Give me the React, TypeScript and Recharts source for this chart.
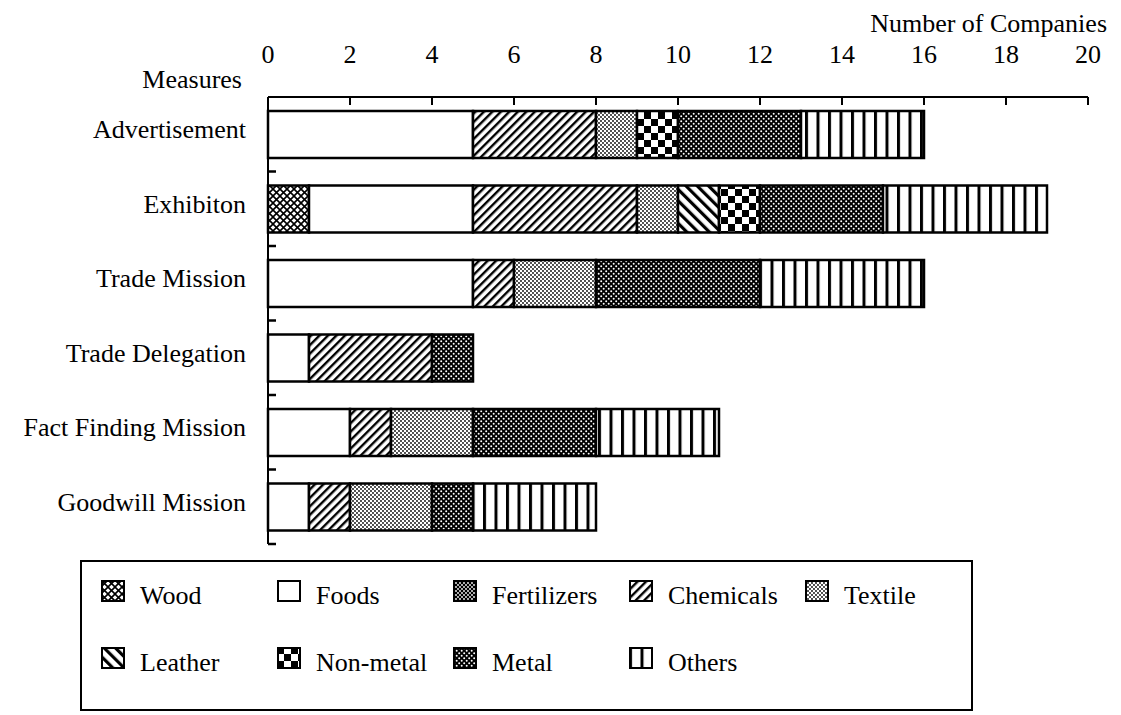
import type { FC } from 'react';
import { BarChart, Bar, XAxis, YAxis, Legend } from 'recharts';

const measures = [
  'Advertisement',
  'Exhibiton',
  'Trade Mission',
  'Trade Delegation',
  'Fact Finding Mission',
  'Goodwill Mission',
];

const wood = [0, 1, 0, 0, 0, 0];
const foods = [5, 4, 5, 1, 2, 1];
const fertilizers = [0, 0, 0, 0, 0, 0];
const chemicals = [3, 4, 1, 3, 1, 1];
const textile = [1, 1, 2, 0, 2, 2];
const leather = [0, 1, 0, 0, 0, 0];
const nonMetal = [1, 1, 0, 0, 0, 0];
const metal = [3, 3, 4, 1, 3, 1];
const others = [3, 4, 4, 0, 3, 3];

const xTicks = [0, 2, 4, 6, 8, 10, 12, 14, 16, 18, 20];

// legend order, as printed in the box
const series = [
  { key: 'wood', name: 'Wood', values: wood },
  { key: 'foods', name: 'Foods', values: foods },
  { key: 'fertilizers', name: 'Fertilizers', values: fertilizers },
  { key: 'chemicals', name: 'Chemicals', values: chemicals },
  { key: 'textile', name: 'Textile', values: textile },
  { key: 'leather', name: 'Leather', values: leather },
  { key: 'nonMetal', name: 'Non-metal', values: nonMetal },
  { key: 'metal', name: 'Metal', values: metal },
  { key: 'others', name: 'Others', values: others },
];

const data = measures.map((measure, i) => {
  const row: Record<string, string | number> = { measure };
  series.forEach((s) => {
    row[s.key] = s.values[i];
  });
  return row;
});

const FONT = "'Liberation Serif', 'Times New Roman', serif";
const X_GAP = 34;
const Y_GAP = 22;

const TopTick = (props: any) => {
  const { x, y, payload } = props;
  const axisY = y + X_GAP;
  return (
    <g>
      <line x1={x} x2={x} y1={axisY} y2={axisY + 8} stroke="#000" strokeWidth={2} />
      <text x={x} y={y} textAnchor="middle" fontSize={26} fontFamily={FONT} fill="#000">
        {payload.value}
      </text>
    </g>
  );
};

const LeftTick = (props: any) => {
  const { x, y, payload, height, visibleTicksCount } = props;
  const axisX = x + Y_GAP;
  const half = Number.isFinite(height) && visibleTicksCount ? height / visibleTicksCount / 2 : 0;
  return (
    <g>
      {half > 0 && (
        <line x1={axisX} x2={axisX + 8} y1={y + half} y2={y + half} stroke="#000" strokeWidth={2.5} />
      )}
      <text x={x} y={y} dy={4} textAnchor="end" fontSize={26} fontFamily={FONT} fill="#000">
        {payload.value}
      </text>
    </g>
  );
};

const renderLegend = () => (
  <div
    style={{
      boxSizing: 'border-box',
      width: '100%',
      height: '100%',
      border: '2px solid #000',
      paddingLeft: 19,
      paddingTop: 18,
      display: 'grid',
      gridTemplateColumns: 'repeat(5, 176px)',
      rowGap: 45,
      alignContent: 'start',
      fontFamily: FONT,
      fontSize: 26,
      color: '#000',
    }}
  >
    {series.map((s) => (
      <div key={s.key} style={{ display: 'flex', alignItems: 'center', height: 22 }}>
        <svg width={24} height={22} style={{ flex: 'none' }}>
          <rect x={1} y={1} width={22} height={20} fill={`url(#p-${s.key})`} stroke="#000" strokeWidth={2} />
        </svg>
        <span style={{ marginLeft: 15, lineHeight: '22px', position: 'relative', top: 5, whiteSpace: 'nowrap' }}>
          {s.name}
        </span>
      </div>
    ))}
  </div>
);

const App: FC = () => {
  return (
    <div style={{ position: 'absolute', left: 0, top: 0 }}>
      <BarChart
        width={1121}
        height={715}
        data={data}
        layout="vertical"
        margin={{ top: 0, right: 33, bottom: 171, left: 0 }}
      >
        <defs>
          <pattern id="p-wood" patternUnits="userSpaceOnUse" width={7} height={7}>
            <rect width={7} height={7} fill="#fff" />
            <path d="M-1,-1 L8,8 M8,-1 L-1,8" stroke="#000" strokeWidth={1.6} />
          </pattern>
          <pattern id="p-foods" patternUnits="userSpaceOnUse" width={4} height={4}>
            <rect width={4} height={4} fill="#fff" />
          </pattern>
          <pattern id="p-fertilizers" patternUnits="userSpaceOnUse" width={4} height={4}>
            <rect width={4} height={4} fill="#000" />
            <circle cx={1} cy={1} r={0.9} fill="#fff" />
            <circle cx={3} cy={3} r={0.9} fill="#fff" />
          </pattern>
          <pattern id="p-chemicals" patternUnits="userSpaceOnUse" width={6} height={6} patternTransform="rotate(45)">
            <rect width={6} height={6} fill="#fff" />
            <rect width={2.4} height={6} fill="#000" />
          </pattern>
          <pattern id="p-textile" patternUnits="userSpaceOnUse" width={4} height={4}>
            <rect width={4} height={4} fill="#fff" />
            <circle cx={1} cy={1} r={0.9} fill="#000" />
            <circle cx={3} cy={3} r={0.9} fill="#000" />
          </pattern>
          <pattern id="p-leather" patternUnits="userSpaceOnUse" width={8} height={8} patternTransform="rotate(-45)">
            <rect width={8} height={8} fill="#fff" />
            <rect width={3.2} height={8} fill="#000" />
          </pattern>
          <pattern id="p-nonMetal" patternUnits="userSpaceOnUse" width={14} height={14}>
            <rect width={14} height={14} fill="#fff" />
            <rect width={7} height={7} fill="#000" />
            <rect x={7} y={7} width={7} height={7} fill="#000" />
          </pattern>
          <pattern id="p-metal" patternUnits="userSpaceOnUse" width={5} height={5}>
            <rect width={5} height={5} fill="#000" />
            <circle cx={1.2} cy={1.2} r={1} fill="#fff" />
            <circle cx={3.7} cy={3.7} r={1} fill="#fff" />
          </pattern>
          <pattern id="p-others" patternUnits="userSpaceOnUse" width={11.5} height={10}>
            <rect width={11.5} height={10} fill="#fff" />
            <rect width={3} height={10} fill="#000" />
          </pattern>
        </defs>
        <text x={1107} y={32} textAnchor="end" fontSize={26} fontFamily={FONT} fill="#000">
          Number of Companies
        </text>
        <text x={242} y={88} textAnchor="end" fontSize={26} fontFamily={FONT} fill="#000">
          Measures
        </text>
        <XAxis
          type="number"
          orientation="top"
          domain={[0, 20]}
          ticks={xTicks}
          interval={0}
          height={97}
          tickSize={0}
          tickMargin={X_GAP}
          tickLine={false}
          tick={<TopTick />}
          axisLine={{ stroke: '#000', strokeWidth: 2 }}
        />
        <YAxis
          type="category"
          dataKey="measure"
          width={268}
          interval={0}
          tickSize={0}
          tickMargin={Y_GAP}
          tickLine={false}
          tick={<LeftTick />}
          axisLine={{ stroke: '#000', strokeWidth: 2 }}
        />
        <Legend
          layout="horizontal"
          verticalAlign="middle"
          align="center"
          content={renderLegend}
          wrapperStyle={{ left: 80, top: 560, width: 893, height: 151 }}
        />
        {series.map((s) => (
          <Bar
            key={s.key}
            dataKey={s.key}
            name={s.name}
            stackId="a"
            barSize={47}
            fill={`url(#p-${s.key})`}
            stroke="#000"
            strokeWidth={2.5}
            isAnimationActive={false}
          />
        ))}
      </BarChart>
    </div>
  );
};

export default App;
